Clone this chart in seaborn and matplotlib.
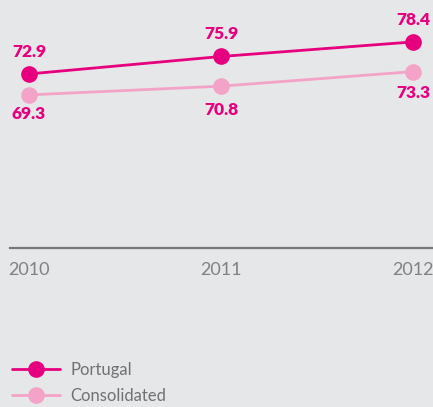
import matplotlib
matplotlib.use("Agg")
import matplotlib.pyplot as plt
import seaborn as sns
import pandas as pd

years = [2010, 2011, 2012]
portugal = [72.9, 75.9, 78.4]
consolidated = [69.3, 70.8, 73.3]
series_names = ["Portugal", "Consolidated"]

df = pd.DataFrame({
    "year": years * 2,
    "value": portugal + consolidated,
    "series": [series_names[0]] * 3 + [series_names[1]] * 3,
})

sns.set_theme(style="white")
plt.rcParams['font.family'] = ['Lato', 'DejaVu Sans']

bg = "#e6e7e8"
c_main = "#e6007e"
c_light = "#f4a3c8"
gray = "#707175"

fig = plt.figure(figsize=(4.33, 4.07), dpi=100, facecolor=bg)
ax = fig.add_axes([10/433, (407-248)/407, 423/433, 248/407])
ax.set_facecolor(bg)

sns.lineplot(data=df, x="year", y="value", hue="series",
             palette={series_names[0]: c_main, series_names[1]: c_light},
             hue_order=[series_names[1], series_names[0]],
             marker="o", markersize=12, markeredgewidth=0, linewidth=2,
             ax=ax, legend=False)

ax.set_xlim(2009.901, 2012.104)
ax.set_ylim(43, 85.6)

for x, y in zip(years, portugal):
    ax.annotate(f"{y:.1f}", (x, y), xytext=(0, 22), textcoords="offset pixels",
                ha="center", va="center", color=c_main, fontsize=12.5, fontweight="heavy")
offs = [19, 24, 21]
for x, y, o in zip(years, consolidated, offs):
    ax.annotate(f"{y:.1f}", (x, y), xytext=(0, -o), textcoords="offset pixels",
                ha="center", va="center", color=c_main, fontsize=12.5, fontweight="heavy")

for s in ["top", "left", "right"]:
    ax.spines[s].set_visible(False)
ax.spines["bottom"].set_color("#77787b")
ax.spines["bottom"].set_linewidth(1.6)
ax.set_yticks([])
ax.set_xticks(years)
ax.set_xticklabels([str(y) for y in years], color="#808185", fontsize=13, fontweight="normal")
ax.tick_params(axis="x", length=0, pad=10, labelcolor="#808185")
ax.set_xlabel("")
ax.set_ylabel("")

from matplotlib.lines import Line2D
handles = [Line2D([0], [0], color=c_main, lw=2, marker="o", markersize=12, markeredgewidth=0),
           Line2D([0], [0], color=c_light, lw=2, marker="o", markersize=12, markeredgewidth=0)]
leg = fig.legend(handles, series_names, loc="upper left", bbox_to_anchor=(12/433, 1 - 362/407),
                 frameon=False, fontsize=12, handlelength=2.9, labelspacing=0.6,
                 handletextpad=0.6, borderaxespad=0, borderpad=0)
for t in leg.get_texts():
    t.set_color(gray)

fig.savefig("out.png", dpi=100, facecolor=bg)
